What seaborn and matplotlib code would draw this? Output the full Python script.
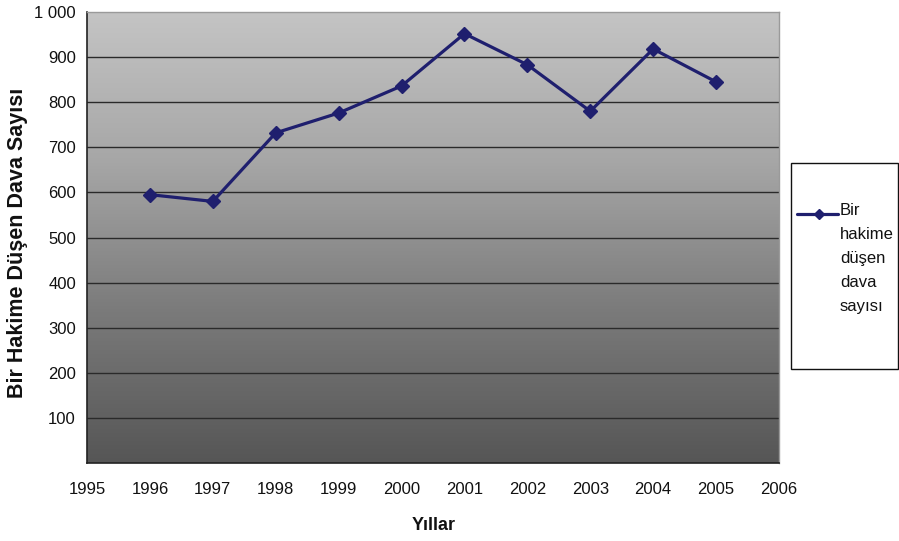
import numpy as np
import pandas as pd
import matplotlib
matplotlib.use("Agg")
import matplotlib.pyplot as plt
import seaborn as sns
from matplotlib.colors import LinearSegmentedColormap
from matplotlib.patches import Rectangle
from matplotlib.lines import Line2D
from matplotlib.ticker import FuncFormatter, MultipleLocator

# Cases per judge, by year
years = [1996, 1997, 1998, 1999, 2000, 2001, 2002, 2003, 2004, 2005]
cases = [595, 580, 732, 776, 836, 952, 883, 780, 918, 845]
x_ticks = list(range(1995, 2007))
series_name = "Bir hakime düşen dava sayısı"
legend_text = "Bir\nhakime\ndüşen\ndava\nsayısı"

df = pd.DataFrame({"Yıl": years, "Dava": cases})

sns.set_theme(style="white")
plt.rcParams["font.family"] = ["Liberation Sans", "DejaVu Sans"]

W, H = 899, 541
fig = plt.figure(figsize=(W / 100, H / 100), dpi=100)
fig.patch.set_facecolor("white")
ax = fig.add_axes([87 / W, 1 - 463 / H, (779 - 87) / W, (463 - 12) / H])

# vertical grey gradient behind the data
grad = LinearSegmentedColormap.from_list("bg", ["#565656", "#7a7a7a", "#a6a6a6", "#c4c4c4"])
ax.imshow(np.linspace(0, 1, 256).reshape(-1, 1), cmap=grad, origin="lower",
          extent=[0, 1, 0, 1], transform=ax.transAxes, aspect="auto", zorder=0)

navy = "#1f1f6e"
sns.lineplot(data=df, x="Yıl", y="Dava", ax=ax, color=navy, linewidth=2.3,
             marker="D", markersize=7.5, markeredgecolor=navy, markeredgewidth=1,
             zorder=5, legend=False)

ax.set_xlim(1995, 2006)
ax.set_ylim(0, 1000)
ax.set_xticks(x_ticks)
ax.yaxis.set_major_locator(MultipleLocator(100))
ax.yaxis.set_major_formatter(FuncFormatter(
    lambda v, p: "" if v == 0 else f"{int(v):,}".replace(",", " ")))

for v in range(100, 1000, 100):
    ax.axhline(v, color="#2a2a2a", linewidth=1.0, zorder=2)

for side in ("top", "right"):
    ax.spines[side].set_color("#9a9a9a")
    ax.spines[side].set_linewidth(1.0)
for side in ("left", "bottom"):
    ax.spines[side].set_color("#222222")
    ax.spines[side].set_linewidth(1.2)
for s in ax.spines.values():
    s.set_zorder(6)

ax.tick_params(axis="both", direction="out", length=5, width=1, color="#222222",
               labelsize=12, labelcolor="#111111")
ax.tick_params(axis="y", pad=3)
ax.tick_params(axis="x", pad=9)

ax.set_xlabel("")
ax.set_ylabel("")
fig.text(18 / W, 1 - 243 / H, "Bir Hakime Düşen Dava Sayısı", rotation=90,
         ha="center", va="center", fontsize=15.5, fontweight="bold", color="#111111")
fig.text(434 / W, 1 - 526 / H, "Yıllar", ha="center", va="center",
         fontsize=13, fontweight="bold", color="#111111")

# legend box on the right
fig.add_artist(Rectangle((791 / W, 1 - 369 / H), (898 - 791) / W, (369 - 163) / H,
                         transform=fig.transFigure, facecolor="white",
                         edgecolor="#111111", linewidth=1.0))
ly = 1 - 214 / H
fig.add_artist(Line2D([797 / W, 819 / W, 838 / W], [ly, ly, ly], transform=fig.transFigure,
                      color=navy, linewidth=2.3, marker="D", markersize=5,
                      markevery=[1], markeredgecolor=navy))
fig.text(840 / W, 1 - 203 / H, legend_text, ha="left", va="top",
         fontsize=12, linespacing=1.75, color="#111111")

fig.savefig("out.png", dpi=100)
